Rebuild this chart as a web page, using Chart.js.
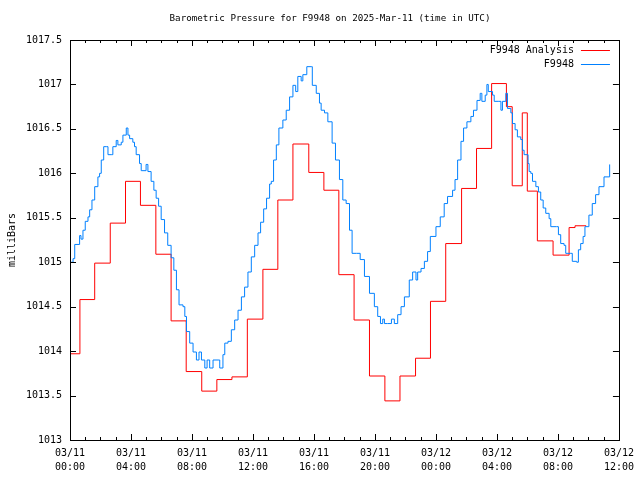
<!DOCTYPE html>
<html>
<head>
<meta charset="utf-8">
<script src="https://cdn.jsdelivr.net/npm/chart.js@4.4.1/dist/chart.umd.min.js"></script>
<style>
  html, body { margin: 0; padding: 0; background: #fff; }
</style>
</head>
<body>
<canvas id="pressureChart" width="640" height="480"></canvas>
<script>
const titleText = 'Barometric Pressure for F9948 on 2025-Mar-11 (time in UTC)';
const yAxisLabel = 'milliBars';

// hours since 03/11 00:00 UTC
const analysisHours = [0, 0.65, 1.62, 2.64, 3.64, 4.62, 5.63, 6.63, 7.62, 8.64, 9.63, 10.62, 11.63,
  12.65, 13.63, 14.62, 15.66, 16.65, 17.63, 18.63, 19.64, 20.65, 21.64, 22.66, 23.64, 24.64,
  25.68, 26.66, 27.65, 28.62, 29.0, 29.66, 29.99, 30.65, 31.68, 32.73, 33.12, 33.85];
const analysisMb = [1013.97, 1014.58, 1014.99, 1015.44, 1015.91, 1015.64, 1015.09, 1014.34, 1013.77,
  1013.55, 1013.68, 1013.71, 1014.36, 1014.92, 1015.70, 1016.33, 1016.01, 1015.81, 1014.86, 1014.35,
  1013.72, 1013.44, 1013.72, 1013.92, 1014.56, 1015.21, 1015.83, 1016.28, 1017.01, 1016.75, 1015.86,
  1016.68, 1015.80, 1015.24, 1015.08, 1015.39, 1015.41, 1015.41];

const obsHours = [0.05, 0.20, 0.31, 0.63, 0.72, 0.85, 1.00, 1.18, 1.29, 1.44, 1.62, 1.83, 1.94, 2.05,
  2.21, 2.38, 2.49, 2.70, 2.81, 3.03, 3.14, 3.36, 3.47, 3.69, 3.80, 3.91, 4.12, 4.23, 4.34, 4.56,
  4.67, 4.99, 5.11, 5.32, 5.50, 5.65, 5.81, 5.98, 6.20, 6.41, 6.63, 6.81, 6.98, 7.15, 7.41, 7.53,
  7.64, 7.85, 8.07, 8.29, 8.46, 8.62, 8.84, 8.99, 9.16, 9.38, 9.71, 9.82, 10.03, 10.15, 10.36,
  10.58, 10.80, 11.02, 11.24, 11.45, 11.67, 11.89, 12.11, 12.33, 12.50, 12.70, 12.89, 13.09, 13.20,
  13.35, 13.53, 13.70, 13.96, 14.18, 14.40, 14.62, 14.80, 14.94, 15.16, 15.27, 15.53, 15.82, 15.89,
  16.15, 16.36, 16.47, 16.69, 16.91, 17.19, 17.41, 17.67, 17.89, 18.11, 18.33, 18.50, 18.78, 19.03,
  19.31, 19.64, 19.96, 20.18, 20.36, 20.51, 20.62, 20.83, 21.08, 21.27, 21.49, 21.71, 21.93, 22.25,
  22.47, 22.69, 22.80, 23.02, 23.24, 23.45, 23.63, 24.00, 24.28, 24.54, 24.76, 25.09, 25.25, 25.42,
  25.64, 25.81, 26.03, 26.29, 26.46, 26.69, 26.90, 27.01, 27.23, 27.34, 27.43, 27.71, 27.82, 28.08,
  28.26, 28.36, 28.58, 28.69, 28.91, 29.02, 29.19, 29.34, 29.56, 29.67, 29.78, 30.04, 30.11, 30.22,
  30.33, 30.55, 30.72, 30.87, 31.03, 31.20, 31.42, 31.53, 31.90, 32.03, 32.18, 32.40, 32.51, 32.84,
  32.94, 33.23, 33.34, 33.49, 33.65, 33.77, 34.03, 34.25, 34.47, 34.69, 35.02, 35.39];
const obsMb = [1015.00, 1015.04, 1015.20, 1015.30, 1015.26, 1015.36, 1015.46, 1015.51, 1015.59, 1015.70,
  1015.85, 1015.96, 1016.00, 1016.15, 1016.30, 1016.30, 1016.21, 1016.21, 1016.30, 1016.37, 1016.32,
  1016.35, 1016.43, 1016.51, 1016.43, 1016.39, 1016.35, 1016.30, 1016.21, 1016.11, 1016.03, 1016.10,
  1016.02, 1015.91, 1015.81, 1015.72, 1015.63, 1015.48, 1015.33, 1015.19, 1015.05, 1014.91, 1014.69,
  1014.52, 1014.50, 1014.39, 1014.22, 1014.09, 1013.99, 1013.90, 1013.99, 1013.90, 1013.81, 1013.90,
  1013.81, 1013.90, 1013.90, 1013.81, 1013.96, 1014.09, 1014.11, 1014.24, 1014.35, 1014.46, 1014.61,
  1014.72, 1014.89, 1015.06, 1015.19, 1015.33, 1015.45, 1015.60, 1015.72, 1015.88, 1015.91, 1016.15,
  1016.32, 1016.51, 1016.60, 1016.71, 1016.86, 1016.99, 1016.92, 1017.09, 1017.04, 1017.11, 1017.20,
  1017.20, 1016.99, 1016.90, 1016.79, 1016.71, 1016.68, 1016.58, 1016.34, 1016.15, 1015.93, 1015.70,
  1015.66, 1015.36, 1015.10, 1015.10, 1015.03, 1014.84, 1014.65, 1014.50, 1014.39, 1014.31, 1014.36,
  1014.31, 1014.31, 1014.36, 1014.31, 1014.41, 1014.50, 1014.61, 1014.80, 1014.89, 1014.80, 1014.89,
  1014.93, 1015.01, 1015.12, 1015.29, 1015.40, 1015.51, 1015.66, 1015.74, 1015.81, 1015.93, 1016.15,
  1016.36, 1016.51, 1016.58, 1016.64, 1016.71, 1016.82, 1016.90, 1016.81, 1016.88, 1017.00, 1016.92,
  1016.88, 1016.81, 1016.81, 1016.71, 1016.81, 1016.90, 1016.73, 1016.68, 1016.56, 1016.49, 1016.41,
  1016.38, 1016.26, 1016.21, 1016.11, 1016.02, 1016.00, 1015.91, 1015.85, 1015.79, 1015.70, 1015.61,
  1015.55, 1015.49, 1015.40, 1015.40, 1015.31, 1015.21, 1015.19, 1015.10, 1015.10, 1015.01, 1015.00,
  1015.14, 1015.21, 1015.29, 1015.40, 1015.53, 1015.66, 1015.76, 1015.85, 1015.96, 1016.10];

const tickDays = ['03/11', '03/11', '03/11', '03/11', '03/11', '03/11', '03/12', '03/12', '03/12', '03/12'];
const tickTimes = ['00:00', '04:00', '08:00', '12:00', '16:00', '20:00', '00:00', '04:00', '08:00', '12:00'];

const monoFamily = "'DejaVu Sans Mono', 'Liberation Mono', monospace";
const monoFont = { family: monoFamily, size: 10, lineHeight: 1.4 };

function toPoints(xs, ys) {
  return xs.map((x, i) => ({ x: x, y: ys[i] }));
}

// gnuplot style frame with inward ticks on all four sides
const frameTicks = {
  id: 'frameTicks',
  afterDatasetsDraw(chart) {
    const { ctx, chartArea: a, scales } = chart;
    ctx.save();
    ctx.strokeStyle = '#000';
    ctx.lineWidth = 1;
    ctx.beginPath();
    for (let h = 0; h <= 36; h++) {
      const px = Math.round(scales.x.getPixelForValue(h)) + 0.5;
      const len = h % 4 === 0 ? 6 : 3;
      ctx.moveTo(px, a.bottom); ctx.lineTo(px, a.bottom - len);
      ctx.moveTo(px, a.top); ctx.lineTo(px, a.top + len);
    }
    for (let v = 1013; v <= 1017.5; v += 0.5) {
      const py = Math.round(scales.y.getPixelForValue(v)) + 0.5;
      ctx.moveTo(a.left, py); ctx.lineTo(a.left + 6, py);
      ctx.moveTo(a.right, py); ctx.lineTo(a.right - 6, py);
    }
    ctx.stroke();
    ctx.strokeRect(Math.round(a.left) + 0.5, Math.round(a.top) + 0.5,
      Math.round(a.right - a.left), Math.round(a.bottom - a.top));
    ctx.restore();
  }
};

// title, rotated y label and the key (text first, then the line sample)
const gnuplotText = {
  id: 'gnuplotText',
  afterDraw(chart) {
    const { ctx, chartArea: a } = chart;
    ctx.save();
    ctx.fillStyle = '#000';
    ctx.textBaseline = 'middle';

    ctx.font = '9.2px ' + monoFamily;
    ctx.textAlign = 'center';
    ctx.fillText(titleText, 330, 19);

    ctx.font = '10px ' + monoFamily;
    ctx.save();
    ctx.translate(12, (a.top + a.bottom) / 2);
    ctx.rotate(-Math.PI / 2);
    ctx.fillText(yAxisLabel, 0, 0);
    ctx.restore();

    ctx.textAlign = 'right';
    chart.data.datasets.forEach((ds, i) => {
      const y = Math.round(a.top + 10 + i * 14) + 0.5;
      ctx.fillStyle = '#000';
      ctx.fillText(ds.label, a.right - 45, y);
      ctx.strokeStyle = ds.borderColor;
      ctx.lineWidth = 1;
      ctx.beginPath();
      ctx.moveTo(a.right - 38, y);
      ctx.lineTo(a.right - 9, y);
      ctx.stroke();
    });
    ctx.restore();
  }
};

new Chart(document.getElementById('pressureChart'), {
  type: 'line',
  data: {
    datasets: [
      {
        label: 'F9948 Analysis',
        data: toPoints(analysisHours, analysisMb),
        borderColor: '#ff0000',
        borderWidth: 1,
        pointRadius: 0,
        stepped: true,
        order: 1
      },
      {
        label: 'F9948',
        data: toPoints(obsHours, obsMb),
        borderColor: '#0080ff',
        borderWidth: 1,
        pointRadius: 0,
        stepped: true,
        order: 0
      }
    ]
  },
  options: {
    responsive: false,
    animation: false,
    devicePixelRatio: 1,
    layout: { padding: { left: 0, right: 20, top: 40, bottom: 0 } },
    plugins: {
      legend: { display: false },
      tooltip: { enabled: false },
      title: { display: false }
    },
    scales: {
      x: {
        type: 'linear',
        min: 0,
        max: 36,
        grid: { display: false, drawTicks: false },
        border: { display: false },
        afterFit(scale) { scale.height = 40; },
        ticks: {
          stepSize: 4,
          autoSkip: false,
          maxRotation: 0,
          padding: 6,
          color: '#000',
          font: monoFont,
          callback(v) {
            const i = v / 4;
            return Number.isInteger(i) ? [tickDays[i], tickTimes[i]] : '';
          }
        }
      },
      y: {
        min: 1013,
        max: 1017.5,
        grid: { display: false, drawTicks: false },
        border: { display: false },
        afterFit(scale) { scale.width = 70; },
        ticks: {
          stepSize: 0.5,
          padding: 8,
          color: '#000',
          font: monoFont,
          callback(v) { return String(v); }
        }
      }
    }
  },
  plugins: [frameTicks, gnuplotText]
});
</script>
</body>
</html>
